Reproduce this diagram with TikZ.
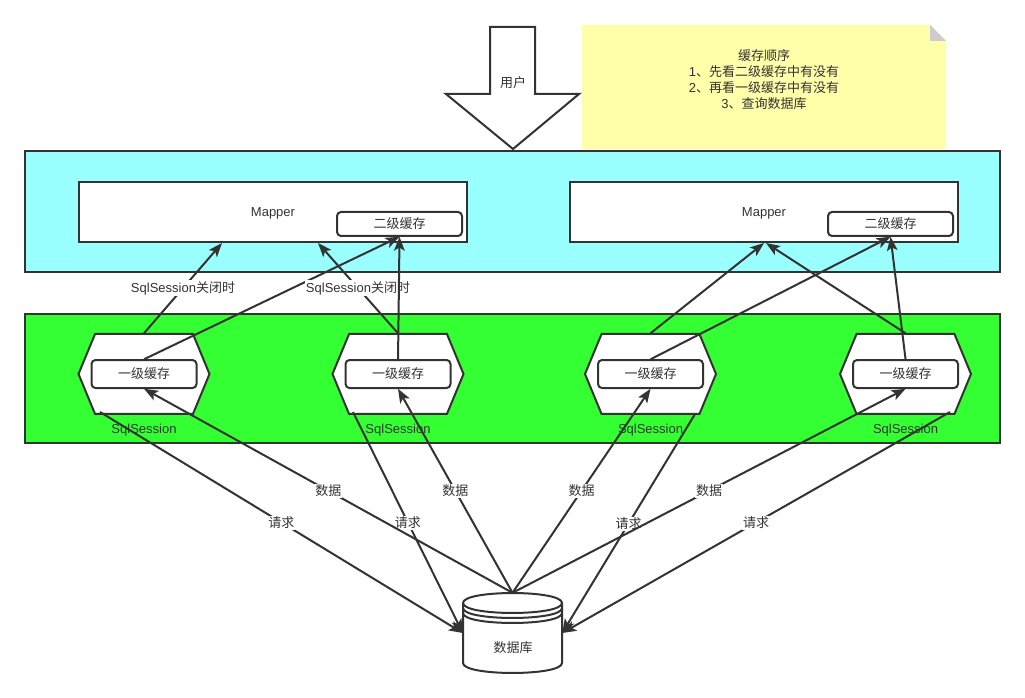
\documentclass[tikz,border=0pt]{standalone}
\usepackage{fontspec}
\setmainfont{Liberation Sans}
\newfontfamily\cjk{Noto Sans CJK SC}
\usetikzlibrary{positioning}
\usetikzlibrary{arrows.meta}
\usetikzlibrary{shapes.symbols}
\definecolor{inkgray}{HTML}{333333}
\definecolor{layercyan}{HTML}{99FFFF}
\definecolor{layergreen}{HTML}{33FF33}
\definecolor{noteyellow}{HTML}{FFFFAA}
\definecolor{foldgray}{HTML}{CCCCCC}

\begin{document}
\begin{tikzpicture}[x=1pt,y=-1pt,scale=0.75,transform shape]
\tikzset{every node/.style={text=inkgray,font=\fontsize{13}{16}\selectfont}}
\tikzset{layer/.style={rectangle,minimum width=975pt,draw=inkgray,line width=1.5pt}}
\tikzset{mapper/.style={rectangle,minimum width=388pt,minimum height=60pt,draw=inkgray,line width=1.5pt,fill=white}}
\tikzset{cache/.style={rectangle,minimum width=125pt,minimum height=24pt,inner sep=0pt,rounded corners=3pt,draw=inkgray,line width=1.5pt,fill=white}}
\tikzset{inner/.style={rectangle,minimum width=105pt,minimum height=28pt,inner sep=0pt,rounded corners=3pt,draw=inkgray,line width=1.5pt,fill=white}}
\tikzset{hexa/.style={signal,signal to=west and east,signal pointer angle=135,minimum width=131pt,minimum height=80pt,inner sep=0pt,draw=inkgray,line width=1.5pt,fill=white}}
\tikzset{caption/.style={inner sep=0pt}}
\tikzset{edgetext/.style={fill=white,inner sep=1pt}}
\tikzset{flow/.style={draw=inkgray,line width=1.5pt,>={Stealth[length=10.5pt,width=8pt,inset=2.5pt]}}}
\useasboundingbox (0,0) rectangle (1025,698);
% layers
\node[layer,minimum height=121pt,fill=layercyan] (layerMapper) at (512.5,211.5) {};
\node[layer,minimum height=129pt,fill=layergreen] (layerSession) at (512.5,378.5) {};
% note
\fill[noteyellow] (582,25) -- (930,25) -- (946,41) -- (946,149) -- (582,149) -- cycle;
\fill[foldgray] (930,25) -- (946,41) -- (930,41) -- cycle;
\node[align=center,inner sep=0pt] (note) at (764,80) {{\cjk 缓存顺序}\\1{\cjk 、先看二级缓存中有没有}\\2{\cjk 、再看一级缓存中有没有}\\3{\cjk 、查询数据库}};
% user arrow
\draw[flow,fill=white] (490,27) -- (535,27) -- (535,94) -- (579,94) -- (513,149) -- (446,94) -- (490,94) -- cycle;
\node[caption] (user) at (513,83) {\cjk 用户};
% mappers
\node[mapper] (mapperA) at (273,212) {};
\node[mapper] (mapperB) at (764,212) {};
\node[caption] (mapperTextA) at (273,213) {Mapper};
\node[caption] (mapperTextB) at (764,213) {Mapper};
\node[cache] (cacheA) at (399.5,224) {\cjk 二级缓存};
\node[cache] (cacheB) at (890.5,224) {\cjk 二级缓存};
% sessions
\node[hexa] (hexA) at (144,374) {};
\node[hexa] (hexB) at (398,374) {};
\node[hexa] (hexC) at (650.5,374) {};
\node[hexa] (hexD) at (905.5,374) {};
\node[inner] (innerA) at (hexA) {\cjk 一级缓存};
\node[inner] (innerB) at (hexB) {\cjk 一级缓存};
\node[inner] (innerC) at (hexC) {\cjk 一级缓存};
\node[inner] (innerD) at (hexD) {\cjk 一级缓存};
\node[caption,below=9pt of hexA] (sessionA) {SqlSession};
\node[caption,below=9pt of hexB] (sessionB) {SqlSession};
\node[caption,below=9pt of hexC] (sessionC) {SqlSession};
\node[caption,below=9pt of hexD] (sessionD) {SqlSession};
% database
\node[rectangle,minimum width=99pt,minimum height=80pt,inner sep=0pt] (db) at (512.5,633) {};
\draw[flow,fill=white] (463,603) .. controls (463,589.7) and (562,589.7) .. (562,603) -- (562,663) .. controls (562,676.3) and (463,676.3) .. (463,663) -- cycle;
\draw[flow] (463,603) .. controls (463,616.3) and (562,616.3) .. (562,603);
\draw[flow] (463,608) .. controls (463,621.3) and (562,621.3) .. (562,608);
\draw[flow] (463,613) .. controls (463,626.3) and (562,626.3) .. (562,613);
\node[caption] (dbText) at (513,648) {\cjk 数据库};
% free ends
\coordinate (mapA) at (222,243);
\coordinate (mapB) at (318,243);
\coordinate (mapC) at (764,243);
\coordinate (mapD) at (766,243);
\coordinate (reqA) at (100,412);
\coordinate (reqB) at (353,412);
\coordinate (reqC) at (695,414);
\coordinate (reqD) at (950,412);
% up to the mappers
\draw[flow,->] (hexA.north) -- node[edgetext] {SqlSession{\cjk 关闭时}} (mapA);
\draw[flow,->] (innerA.north) -- (cacheA.south);
\draw[flow,->] (hexB.north) -- node[edgetext] {SqlSession{\cjk 关闭时}} (mapB);
\draw[flow,->] (innerB.north) -- (cacheA.south);
\draw[flow,->] (hexC.north) -- (mapC);
\draw[flow,->] (innerC.north) -- (cacheB.south);
\draw[flow,->] (hexD.north) -- (mapD);
\draw[flow,->] (innerD.north) -- (cacheB.south);
% requests
\draw[flow,->] (reqA) -- node[edgetext] {\cjk 请求} (db.west);
\draw[flow,->] (reqB) -- node[edgetext] {\cjk 请求} (db.west);
\draw[flow,->] (reqC) -- node[edgetext] {\cjk 请求} (db.east);
\draw[flow,->] (reqD) -- node[edgetext] {\cjk 请求} (db.east);
% data
\draw[flow,->] (db.north) -- node[edgetext] {\cjk 数据} (innerA.south);
\draw[flow,->] (db.north) -- node[edgetext] {\cjk 数据} (innerB.south);
\draw[flow,->] (db.north) -- node[edgetext] {\cjk 数据} (innerC.south);
\draw[flow,->] (db.north) -- node[edgetext] {\cjk 数据} (innerD.south);
\end{tikzpicture}
\end{document}
